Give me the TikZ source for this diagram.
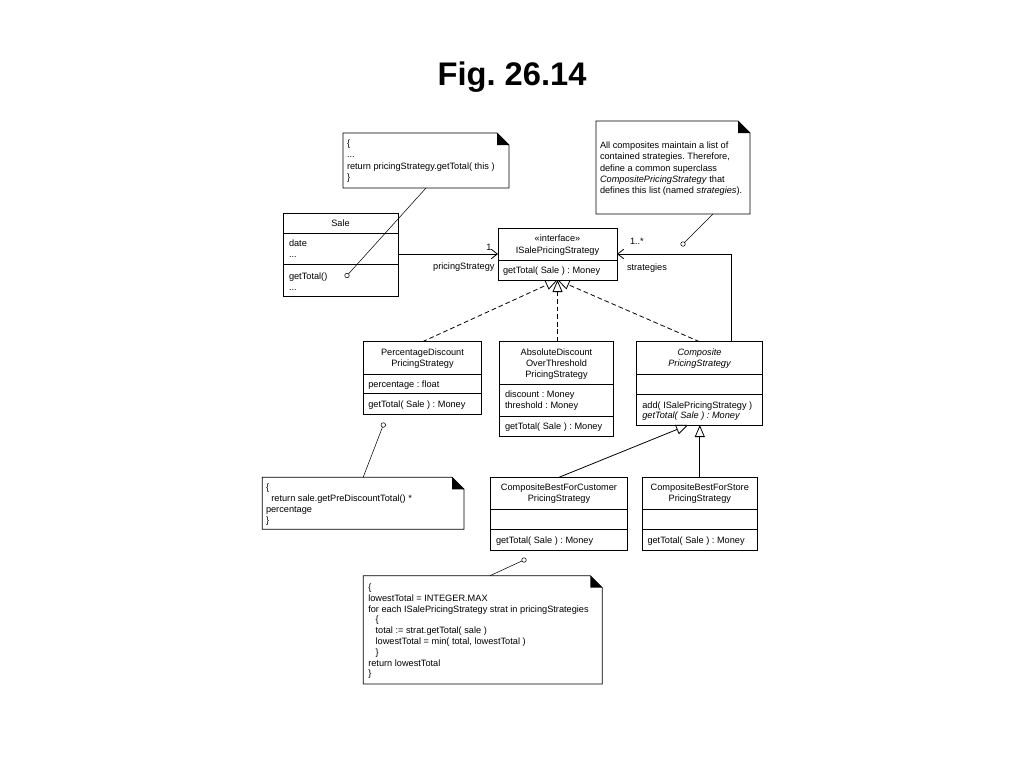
\documentclass[tikz,border=0pt]{standalone}
\usepackage{fontspec}
\setmainfont{Liberation Sans}
\usetikzlibrary{arrows.meta,fit}
\frenchspacing
\begin{document}
\begin{tikzpicture}[x=0.75pt,y=-0.75pt,
  every node/.style={inner sep=0pt, outer sep=0pt},
  txt/.style={font=\fontsize{6.9}{8.3}\selectfont},
  box/.style={draw, line width=0.6pt, inner sep=0pt, outer sep=0pt},
  ghost/.style={inner sep=0pt, outer sep=0pt},
  sep/.style={line width=0.6pt},
  notebody/.style={line width=0.6pt, fill=white},
  assoc/.style={line width=0.6pt, -{Straight Barb[length=4.5pt,width=7pt]}},
  real/.style={line width=0.6pt, dash pattern=on 3.5pt off 2.2pt, -{Triangle[open,length=9pt,width=7.5pt]}},
  gen/.style={line width=0.6pt, -{Triangle[open,length=9pt,width=7.5pt]}},
  noteline/.style={line width=0.4pt},
  anchorpt/.style={circle, draw, line width=0.4pt, minimum size=3.4pt, inner sep=0pt, fill=white},
]
\useasboundingbox (0,0) rectangle (1024,768);
\fill[white] (0,0) rectangle (1024,768);

% title
\node[font=\fontsize{24.5}{28}\selectfont\bfseries, anchor=base] (title) at (512,85) {Fig. 26.14};

% ---------- Sale ----------
\node[box, fit={(283,213) (398,296)}] (sale) {};
\draw[sep] (283,233) -- (398,233);
\draw[sep] (283,264) -- (398,264);
\node[txt, anchor=base] (saleN) at (340.5,226) {Sale};
\node[txt, anchor=north west, align=left] (saleA) at (289,239.4) {date\\...};
\node[txt, anchor=north west, align=left] (saleM) at (289,272.4) {getTotal()\\...};

% ---------- Interface ----------
\node[box, fit={(498,228) (617,280)}] (iface) {};
\draw[sep] (498,260) -- (617,260);
\node[txt, anchor=base] (ifS) at (557.5,241) {«interface»};
\node[txt, anchor=base] (ifN) at (557.5,253.5) {ISalePricingStrategy};
\node[txt, anchor=base west] (ifM) at (503,273) {getTotal( Sale ) : Money};

% ---------- PercentageDiscount ----------
\node[box, fit={(363.3,341.7) (481.7,414.3)}] (pct) {};
\draw[sep] (363.3,374) -- (481.7,374);
\draw[sep] (363.3,393.3) -- (481.7,393.3);
\node[txt, anchor=north, align=center, font=\fontsize{6.9}{8.25}\selectfont] (pctN) at (422.5,348.4) {PercentageDiscount\\PricingStrategy};
\node[txt, anchor=base west] (pctA) at (368.3,387) {percentage : float};
\node[txt, anchor=base west] (pctM) at (368.3,407) {getTotal( Sale ) : Money};

% ---------- AbsoluteDiscount ----------
\node[box, fit={(499.3,341.7) (613.7,436)}] (abs) {};
\draw[sep] (499.3,384.3) -- (613.7,384.3);
\draw[sep] (499.3,416) -- (613.7,416);
\node[txt, anchor=north, align=center, font=\fontsize{6.9}{8.25}\selectfont] (absN) at (556.5,348.4) {AbsoluteDiscount\\OverThreshold\\PricingStrategy};
\node[txt, anchor=north west, align=left, font=\fontsize{6.9}{8.4}\selectfont] (absA) at (505,390.7) {discount : Money\\threshold : Money};
\node[txt, anchor=base west] (absM) at (505,429) {getTotal( Sale ) : Money};

% ---------- Composite ----------
\node[box, fit={(636.7,341.7) (762.3,425)}] (comp) {};
\draw[sep] (636.7,374) -- (762.3,374);
\draw[sep] (636.7,394.3) -- (762.3,394.3);
\node[txt, anchor=north, align=center, font=\fontsize{6.9}{8.25}\selectfont\itshape] (compN) at (699.5,348.4) {Composite\\PricingStrategy};
\node[txt, anchor=north west, align=left, font=\fontsize{6.9}{8.1}\selectfont] (compM) at (642.3,401.4) {add( ISalePricingStrategy )\\\textit{getTotal( Sale ) : Money}};

% ---------- CompositeBestForCustomer ----------
\node[box, fit={(490.7,477.3) (627.3,550)}] (cust) {};
\draw[sep] (490.7,509.3) -- (627.3,509.3);
\draw[sep] (490.7,529.3) -- (627.3,529.3);
\node[txt, anchor=north, align=center, font=\fontsize{6.9}{8.25}\selectfont] (custN) at (559,483.7) {CompositeBestForCustomer\\PricingStrategy};
\node[txt, anchor=base west] (custM) at (496,543) {getTotal( Sale ) : Money};

% ---------- CompositeBestForStore ----------
\node[box, fit={(642.3,477.3) (757.3,550)}] (store) {};
\draw[sep] (642.3,509.3) -- (757.3,509.3);
\draw[sep] (642.3,529.3) -- (757.3,529.3);
\node[txt, anchor=north, align=center, font=\fontsize{6.9}{8.25}\selectfont] (storeN) at (699.8,483.7) {CompositeBestForStore\\PricingStrategy};
\node[txt, anchor=base west] (storeM) at (647.5,543) {getTotal( Sale ) : Money};

% ---------- Notes ----------
% note 1
\node[ghost, fit={(343,133) (509,188)}] (note1) {};
\draw[notebody] (343,133) -- (497,133) -- (509,145) -- (509,188) -- (343,188) -- cycle;
\fill[black] (497,133) -- (497,145) -- (509,145) -- cycle;
\node[txt, anchor=north west, align=left, font=\fontsize{6.9}{8.6}\selectfont] (note1T) at (347,139.4) {\{\\...\\return pricingStrategy.getTotal( this )\\\}};

% note 2
\node[ghost, fit={(596,121) (750,214)}] (note2) {};
\draw[notebody] (596,121) -- (738,121) -- (750,133) -- (750,214) -- (596,214) -- cycle;
\fill[black] (738,121) -- (738,133) -- (750,133) -- cycle;
\node[txt, anchor=north west, align=left, font=\fontsize{6.9}{8.6}\selectfont] (note2T) at (600,141.4) {All composites maintain a list of\\contained strategies. Therefore,\\define a common superclass\\\textit{CompositePricingStrategy} that\\defines this list (named \textit{strategies}).};

% note 3
\node[ghost, fit={(262.3,477.3) (464,529.3)}] (note3) {};
\draw[notebody] (262.3,477.3) -- (452,477.3) -- (464,489.3) -- (464,529.3) -- (262.3,529.3) -- cycle;
\fill[black] (452,477.3) -- (452,489.3) -- (464,489.3) -- cycle;
\node[txt, anchor=north west, align=left, font=\fontsize{6.9}{8.3}\selectfont] (note3T) at (266,483.7) {\{\\\hspace*{4pt}return sale.getPreDiscountTotal() *\\percentage\\\}};

% note 4
\node[ghost, fit={(363.3,575.7) (602.3,684)}] (note4) {};
\draw[notebody] (363.3,575.7) -- (590.3,575.7) -- (602.3,587.7) -- (602.3,684) -- (363.3,684) -- cycle;
\fill[black] (590.3,575.7) -- (590.3,587.7) -- (602.3,587.7) -- cycle;
\node[txt, anchor=north west, align=left, font=\fontsize{6.9}{8.1}\selectfont] (note4T) at (368.3,583.9) {\{\\lowestTotal = INTEGER.MAX\\for each ISalePricingStrategy strat in pricingStrategies\\\hspace*{5.5pt}\{\\\hspace*{5.5pt}total := strat.getTotal( sale )\\\hspace*{5.5pt}lowestTotal = min( total, lowestTotal )\\\hspace*{5.5pt}\}\\return lowestTotal\\\}};

% ---------- anchor circles and note lines ----------
\node[anchorpt] (c1) at (347,275.5) {};
\node[anchorpt] (c2) at (683,244) {};
\node[anchorpt] (c3) at (383.3,425) {};
\node[anchorpt] (c4) at (524,560) {};
\coordinate (n2a) at (713,214);
\coordinate (n4a) at (490,575.7);
\draw[noteline] (c1) -- (note1.south);
\draw[noteline] (c2) -- (n2a);
\draw[noteline] (c3) -- (note3.north);
\draw[noteline] (c4) -- (n4a);

% ---------- associations ----------
\coordinate (cas) at (731.5,341.7);
\draw[assoc] (sale.east |- iface.west) -- (iface.west);
\draw[assoc] (cas) |- (iface.east);
\node[txt, anchor=base] (m1) at (489,250) {1};
\node[txt, anchor=base east] (r1) at (494.5,269) {pricingStrategy};
\node[txt, anchor=base west] (m2) at (630,244) {1..*};
\node[txt, anchor=base west] (r2) at (627,270) {strategies};

% ---------- realizations ----------
\draw[real] (pct.north) -- (iface.south);
\draw[real] (abs.north -| iface.south) -- (iface.south);
\draw[real] (comp.north) -- (iface.south);

% ---------- generalizations ----------
\coordinate (gapex) at (688,425);
\draw[gen] (cust.north) -- (gapex);
\draw[gen] (store.north) -- (store.north |- comp.south);
\end{tikzpicture}
\end{document}
